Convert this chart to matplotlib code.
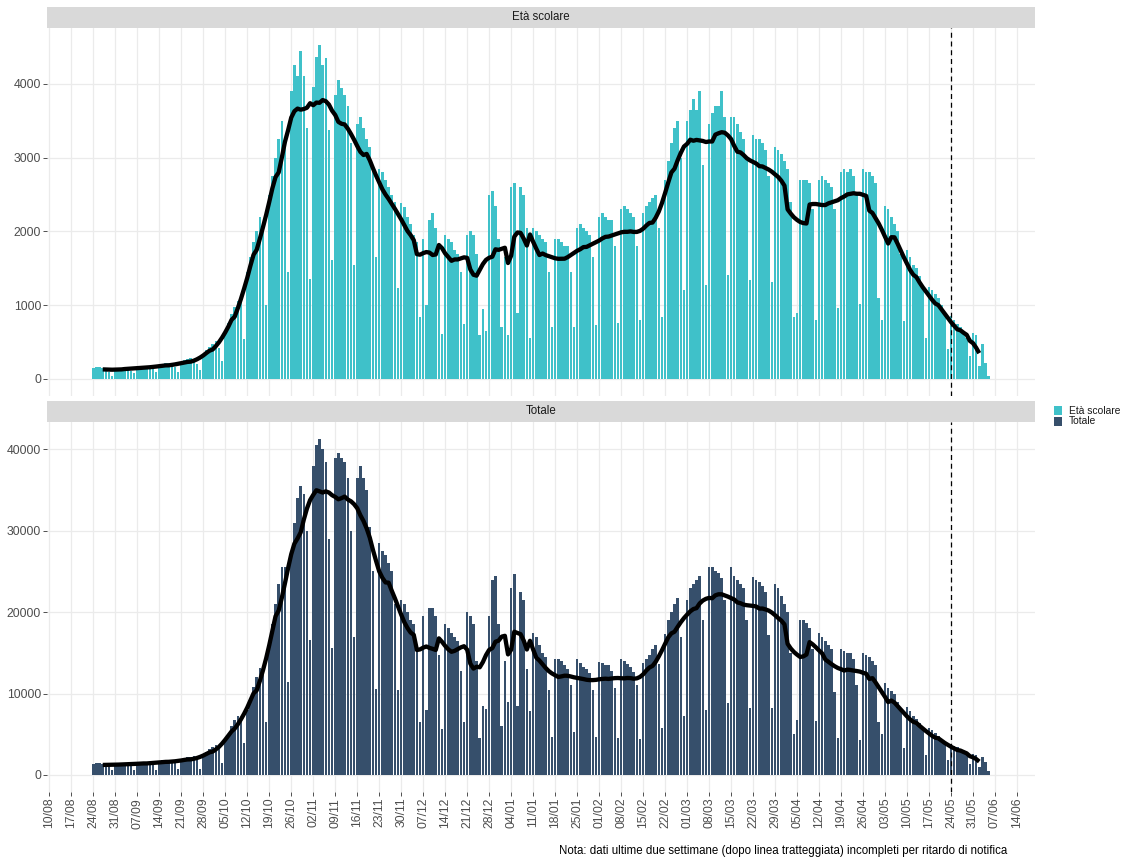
import pandas as pd
import matplotlib.pyplot as plt
from matplotlib.patches import Rectangle

plt.rcParams['font.family'] = ['Liberation Sans', 'DejaVu Sans']

# Dati giornalieri (lun-dom), dal 24/08/2020 al 05/06/2021
inizio = "2020-08-24"

eta_scolare = [
    150, 160, 165, 150, 140, 100, 45,
    140, 150, 155, 160, 150, 110, 80,
    160, 175, 180, 175, 170, 130, 95,
    190, 205, 215, 215, 210, 160, 100,
    230, 255, 275, 280, 275, 205, 125,
    320, 390, 440, 480, 510, 420, 240,
    640, 760, 880, 980, 1060, 1050, 540,
    1450, 1650, 1850, 2000, 2200, 2100, 1000,
    2500, 2750, 3000, 3250, 3500, 3150, 1450,
    3900, 4250, 4100, 4450, 4100, 3400, 1350,
    3960, 4370, 4530, 4260, 4350, 3380, 1610,
    3850, 4050, 3950, 3850, 3700, 3200, 1550,
    3450, 3550, 3400, 3250, 3150, 2900, 1650,
    2850, 2800, 2700, 2600, 2500, 2400, 1230,
    2380, 2330, 2200, 2100, 1950, 1850, 840,
    1900, 1000, 2150, 2250, 2050, 1800, 610,
    1950, 1900, 1850, 1750, 1700, 1450, 740,
    1950, 2000, 1950, 1700, 600, 950, 650,
    2500, 2550, 2350, 1900, 700, 1650, 600,
    2600, 2650, 900, 2600, 2500, 2050, 560,
    2050, 2000, 1950, 1900, 1850, 1450, 700,
    1900, 1900, 1850, 1800, 1800, 1450, 710,
    2050, 2100, 2050, 2000, 1950, 1650, 730,
    2200, 2250, 2200, 2150, 2150, 1800, 760,
    2300, 2350, 2300, 2250, 2200, 1800, 800,
    2250, 2350, 2400, 2450, 2500, 2050, 840,
    2700, 2950, 3200, 3400, 3500, 3000, 1200,
    3500, 3650, 3800, 3650, 3900, 2900, 1280,
    3450, 3600, 3700, 3700, 3900, 3550, 1410,
    3550, 3550, 3450, 3350, 3250, 3000, 1340,
    3300, 3250, 3250, 3200, 3100, 2750, 1310,
    3150, 3100, 3050, 2950, 2850, 2400, 840,
    900, 2700, 2700, 2700, 2650, 2300, 800,
    2700, 2750, 2700, 2650, 2600, 2300, 960,
    2800, 2850, 2800, 2850, 2750, 2500, 1020,
    2850, 2800, 2800, 2750, 2650, 1100, 800,
    2350, 2300, 2200, 2100, 2000, 1700, 790,
    1750, 1650, 1550, 1500, 1400, 1250, 560,
    1250, 1200, 1150, 1100, 1000, 900, 400,
    850, 800, 750, 700, 650, 560, 310,
    620, 600, 180, 480, 220, 40,
]

totale = [
    1400, 1450, 1420, 1380, 1350, 1050, 595,
    1450, 1500, 1480, 1450, 1420, 1150, 650,
    1550, 1620, 1650, 1600, 1570, 1300, 650,
    1750, 1850, 1880, 1850, 1820, 1480, 710,
    1950, 2100, 2200, 2250, 2300, 1850, 790,
    2450, 2800, 3150, 3400, 3700, 3200, 1460,
    4300, 5000, 6000, 6700, 7200, 6800, 3900,
    8000, 9300, 10800, 12000, 13200, 13000, 6500,
    16000, 18500, 21000, 23500, 25500, 25500, 11400,
    27000, 31000, 34000, 35500, 34500, 30000, 16600,
    38000, 40500, 41300, 40000, 38500, 29000, 15600,
    39000, 39500, 39000, 38500, 36500, 30000, 16900,
    36500, 38000, 36500, 35000, 30500, 25000, 10600,
    28500, 27500, 27000, 26000, 25000, 21000, 10400,
    21500, 21000, 20000, 19000, 18500, 16000, 6500,
    19500, 8000, 20500, 20500, 19500, 14800, 5700,
    18500, 18000, 17500, 17000, 16500, 12750, 6500,
    20000, 19500, 18500, 14000, 4500, 8500, 8100,
    19500, 24000, 24500, 18500, 6000, 14000, 9000,
    23000, 24700, 8500, 22500, 21500, 13000, 7900,
    17500, 17000, 16000, 15000, 14500, 10500, 4700,
    14300, 14300, 14000, 13500, 13000, 11000, 5300,
    14200, 13700, 13300, 13000, 12500, 10500, 4700,
    13900, 13700, 13500, 13500, 12800, 10700, 4500,
    14300, 14000, 13600, 13300, 12700, 11000, 4400,
    13800, 14300, 14800, 15500, 16000, 13600, 5800,
    17300, 19000, 20000, 21000, 21700, 17000, 7200,
    21500, 23000, 23500, 24000, 24500, 19000, 8000,
    25500, 25500, 25000, 24800, 24200, 21500, 8900,
    25500, 24500, 24000, 23500, 23000, 19000, 8200,
    24300, 24000, 23700, 23200, 22500, 17200, 8250,
    23500, 23000, 22000, 21000, 20000, 15000, 5000,
    6800, 19000, 19000, 18700, 18000, 15500, 6600,
    17500, 17000, 16500, 16000, 15500, 10200, 4600,
    15500, 15200, 15000, 15000, 14300, 11000, 4300,
    15000, 14800, 14500, 14000, 13500, 6500, 5000,
    11300, 10700, 10300, 9900, 9000, 7800, 3300,
    8300, 7800, 7300, 6900, 6400, 5700, 2400,
    5800, 5500, 5100, 4800, 4400, 4100, 1800,
    3800, 3600, 3400, 3200, 3000, 2700, 1300,
    2600, 2400, 1000, 2200, 1550, 500,
]

pannelli = ["Età scolare", "Totale"]
colori = ["#3FC1C9", "#364F6B"]
y_ticks = [[0, 1000, 2000, 3000, 4000], [0, 10000, 20000, 30000, 40000]]
data_tratteggio = pd.Timestamp("2021-05-24")
nota = "Nota: dati ultime due settimane (dopo linea tratteggiata) incompleti per ritardo di notifica"

df = pd.DataFrame({"Età scolare": eta_scolare, "Totale": totale})
df["data"] = pd.date_range(inizio, periods=len(df), freq="D")

# media mobile centrata a 7 giorni
medie = {p: df[p].rolling(7, center=True).mean() for p in pannelli}

settimane = pd.date_range("2020-08-10", "2021-06-14", freq="7D")
span = (df["data"].iloc[-1] - df["data"].iloc[0]).days + 0.9
x_min = df["data"].iloc[0] - pd.Timedelta(days=0.45 + 0.05 * span)
x_max = df["data"].iloc[-1] + pd.Timedelta(days=0.45 + 0.05 * span)

W, H = 1134, 861
fig = plt.figure(figsize=(W / 100, H / 100), dpi=100)
fig.patch.set_facecolor("white")

# posizioni in pixel: (sinistra, alto pannello, basso pannello)
layout = [(47, 28, 395.7), (47, 422, 791.8)]
destra = 1035
grigio_testo = "#4D4D4D"

for i, p in enumerate(pannelli):
    sx, top, bot = layout[i]
    ax = fig.add_axes([sx / W, 1 - bot / H, (destra - sx) / W, (bot - top) / H])
    ax.bar(df["data"], df[p], width=0.82, color=colori[i], zorder=2)
    ax.plot(df["data"], medie[p], color="black", lw=3.1, zorder=3,
            solid_capstyle="butt")
    ax.axvline(data_tratteggio, color="black", lw=0.9, ls=(0, (4, 3)), zorder=4)

    mx = df[p].max()
    ax.set_ylim(-0.05 * mx, 1.05 * mx)
    ax.set_xlim(x_min, x_max)
    ax.set_yticks(y_ticks[i])
    ax.set_yticklabels([str(v) for v in y_ticks[i]])
    ax.set_xticks(settimane)

    ax.grid(True, color="#EBEBEB", lw=0.9, zorder=0)
    ax.set_axisbelow(True)
    for s in ax.spines.values():
        s.set_visible(False)
    ax.tick_params(axis="both", labelsize=8.8, labelcolor=grigio_testo,
                   color="#333333", length=2.8, width=0.6, pad=1.5)
    if i == 1:
        ax.set_xticklabels([d.strftime("%d/%m") for d in settimane], rotation=90)
    else:
        ax.set_xticklabels([])
        ax.tick_params(axis="x", length=0)

    # striscia del titolo del pannello
    fig.add_artist(Rectangle((sx / W, 1 - top / H), (destra - sx) / W, 21 / H,
                             transform=fig.transFigure, facecolor="#D9D9D9",
                             edgecolor="none"))
    fig.text((sx + destra) / 2 / W, 1 - (top - 10.5) / H, p, ha="center",
             va="center", fontsize=8.3, color="#1A1A1A")

# legenda
for i, p in enumerate(pannelli):
    y0 = 406 + i * 11
    fig.add_artist(Rectangle((1054 / W, 1 - (y0 + 9) / H), 8 / W, 9 / H,
                             transform=fig.transFigure, facecolor=colori[i],
                             edgecolor="none"))
    fig.text(1069 / W, 1 - (y0 + 4.5) / H, p, ha="left", va="center",
             fontsize=7.4, color="#1A1A1A")

fig.text(1007 / W, 1 - 851 / H, nota, ha="right", va="center",
         fontsize=8.3, color="black")

fig.savefig("out.png", dpi=100)
